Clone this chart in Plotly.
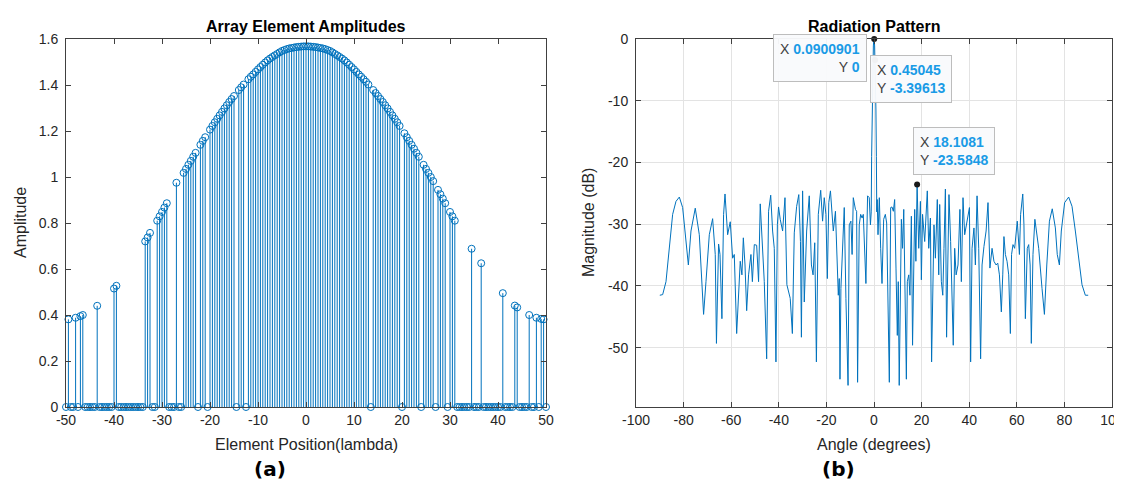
import numpy as np
import plotly.graph_objects as go

# ---------------- data: (a) array element amplitudes ----------------
element_positions = np.arange(-50, 50.5, 0.5)  # element grid in lambda
element_amplitudes = [
    0, 0.381, 0, 0, 0.388, 0, 0.395, 0.400, 0, 0,                     # -50 .. -45.5
    0, 0, 0, 0.440, 0, 0, 0, 0, 0, 0,                                 # -45 .. -40.5
    0.515, 0.527, 0, 0, 0, 0, 0, 0, 0, 0,                             # -40 .. -35.5
    0, 0, 0, 0.720, 0.737, 0.757, 0, 0, 0.810, 0.829,                 # -35 .. -30.5
    0.848, 0.867, 0.886, 0, 0, 0, 0.975, 0, 0, 1.018,                 # -30 .. -25.5
    1.035, 1.053, 1.070, 1.088, 1.105, 0, 1.140, 1.157, 1.173, 0,     # -25 .. -20.5
    1.206, 1.222, 1.238, 1.253, 1.268, 1.283, 1.298, 1.312, 1.326, 1.339,  # -20 .. -15.5
    1.352, 0, 1.378, 1.390, 1.402, 0, 1.425, 1.436, 1.446, 1.457,     # -15 .. -10.5
    1.468, 1.478, 1.488, 1.498, 1.507, 1.515, 1.522, 1.529, 1.535, 1.542,  # -10 .. -5.5
    1.548, 1.552, 1.556, 1.559, 1.561, 1.563, 1.565, 1.566, 1.567, 1.568,  # -5 .. -0.5
    1.568, 1.568, 1.567, 1.566, 1.565, 1.563, 1.561, 1.559, 1.556, 1.552,  # 0 .. 4.5
    1.548, 1.542, 1.535, 1.529, 1.522, 1.515, 1.507, 1.498, 1.488, 1.478,  # 5 .. 9.5
    1.468, 1.457, 1.446, 1.436, 1.425, 1.414, 1.402, 0, 1.378, 1.365,      # 10 .. 14.5
    1.352, 1.339, 1.326, 1.312, 1.298, 1.283, 1.268, 1.253, 1.238, 1.222,  # 15 .. 19.5
    0, 1.190, 1.173, 1.157, 1.140, 1.123, 1.105, 1.088, 0, 1.053,      # 20 .. 24.5
    1.035, 1.018, 1.000, 0.982, 0, 0.944, 0.925, 0.906, 0.886, 0,      # 25 .. 29.5
    0.848, 0.829, 0.810, 0, 0, 0, 0, 0, 0, 0.688,                     # 30 .. 34.5
    0, 0, 0, 0.625, 0, 0, 0, 0, 0, 0,                                 # 35 .. 39.5
    0, 0, 0.495, 0, 0, 0, 0, 0.441, 0.433, 0,                         # 40 .. 44.5
    0, 0, 0, 0.400, 0, 0, 0.388, 0, 0.383, 0.381,                     # 45 .. 49.5
    0,                                                                # 50
]
a_xticks = [-50, -40, -30, -20, -10, 0, 10, 20, 30, 40, 50]
a_yticks = [0, 0.2, 0.4, 0.6, 0.8, 1, 1.2, 1.4, 1.6]

# ---------------- data: (b) radiation pattern ----------------
angle_left = [
    -90.0, -88.8, -87.4, -86.0, -84.6, -83.2, -81.8, -80.4, -79.0, -78.0,
    -76.9, -75.1, -73.4, -72.0, -71.6, -70.6, -69.2, -67.8, -66.7, -66.2,
    -65.3, -64.7, -63.9, -63.2, -62.6, -61.5, -60.4, -59.4, -58.7, -57.7,
    -56.9, -56.2, -55.5, -54.9, -54.2, -53.5, -52.7, -51.7, -51.1, -50.3,
    -49.3, -48.5, -47.8, -47.1, -46.1, -45.1, -44.3, -43.4, -42.6, -41.9,
    -41.2, -40.6, -40.1, -39.4, -38.4, -37.4, -36.6, -35.2, -34.3, -33.5,
    -32.5, -31.6, -30.9, -30.5, -30.0, -29.3, -28.3, -27.2, -26.3, -25.6,
    -24.9, -24.2, -23.4, -22.4, -21.6, -20.9, -20.2, -19.6, -19.0, -18.3,
    -17.5, -17.1, -16.2, -15.5, -15.0, -14.6, -14.3, -13.9, -13.4, -12.5,
    -11.8, -10.9, -10.4, -9.7, -9.2, -8.7, -7.8, -7.3, -6.9, -6.2,
    -5.6, -5.0, -4.5, -3.9, -3.4, -2.7, -2.0, -1.5, -1.17, -0.99,
    -0.81, -0.63, -0.45, -0.27, -0.09,
]
magnitude_left = [
    -41.5, -41.4, -39.3, -33.3, -28.4, -26.3, -25.6, -27.3, -32.8, -36.6,
    -31.1, -27.4, -31.7, -40.4, -44.6, -39.3, -31.7, -29.1, -34.9, -49.3,
    -33.2, -34.9, -45.3, -28.4, -25.1, -31.7, -29.6, -35.5, -34.9, -47.7,
    -40.4, -36.0, -38.2, -32.2, -36.6, -44.0, -38.2, -34.9, -39.3, -33.3,
    -33.4, -39.3, -26.7, -32.8, -39.3, -51.8, -27.9, -25.3, -31.1, -33.9,
    -52.3, -30.1, -27.2, -29.2, -31.1, -25.7, -39.8, -42.0, -47.7, -31.4,
    -27.1, -25.2, -32.8, -48.3, -24.6, -42.6, -31.1, -25.4, -36.6, -38.2,
    -33.0, -52.3, -28.4, -24.5, -29.5, -25.7, -28.4, -38.8, -26.5, -24.6,
    -29.8, -31.1, -27.9, -38.2, -41.5, -38.8, -55.1, -40.4, -35.5, -27.3,
    -42.0, -56.1, -30.1, -29.5, -34.9, -25.7, -27.6, -27.9, -55.6, -30.1,
    -28.4, -29.0, -28.4, -33.9, -39.6, -25.4, -25.7, -30.1, -28.0, -19.0,
    -11.5, -6.8, -3.4, -1.13, 0.0,
]
angle_right = [
    0.0900901, 0.27, 0.45045, 0.63, 0.81, 0.99, 1.17, 1.35, 1.68, 2.24,
    2.8, 3.36, 4.06, 4.76, 5.32, 5.88, 6.44, 7.0, 7.56, 8.12,
    8.68, 9.24, 9.8, 10.2, 10.6, 11.5, 12.0, 12.5, 13.0, 13.6,
    14.0, 14.6, 15.1, 15.7, 16.2, 17.1, 17.6, 18.1081, 18.8, 19.5,
    19.9, 20.4, 21.3, 22.4, 23.0, 23.7, 24.2, 24.8, 25.2, 25.8,
    26.6, 27.2, 27.6, 28.3, 28.9, 29.4, 30.0, 30.5, 31.1, 31.5,
    32.2, 32.8, 33.3, 33.9, 34.5, 35.3, 36.1, 36.7, 37.4, 38.1,
    38.8, 39.5, 40.1, 40.6, 41.2, 42.0, 42.6, 43.3, 44.0, 44.8,
    45.4, 46.2, 47.1, 47.9, 48.7, 49.6, 50.4, 51.3, 52.0, 52.7,
    53.5, 54.1, 54.6, 55.2, 55.9, 56.6, 57.3, 57.8, 58.4, 59.1,
    60.2, 61.1, 61.6, 62.5, 63.0, 63.6, 64.4, 65.0, 65.6, 66.1,
    66.8, 67.6, 69.2, 70.6, 71.6, 72.6, 73.7, 74.9, 76.2, 77.0,
    77.9, 78.7, 80.1, 81.8, 83.2, 84.6, 86.0, 87.4, 88.8, 90.0,
]
magnitude_right = [
    0.0, -1.13, -3.39613, -6.8, -11.5, -19.0, -28.0, -26.0, -31.7, -25.7,
    -33.9, -39.6, -29.2, -28.4, -29.8, -42.6, -55.6, -27.3, -27.2, -27.9,
    -26.0, -37.1, -48.0, -39.3, -56.1, -29.2, -33.9, -27.6, -40.4, -55.1,
    -39.3, -38.2, -41.5, -28.7, -49.6, -27.6, -36.0, -23.5848, -33.9, -26.3,
    -39.0, -28.4, -32.8, -24.6, -33.9, -29.0, -52.3, -35.5, -30.1, -35.5,
    -26.0, -38.2, -26.8, -39.3, -41.5, -33.9, -24.3, -48.3, -33.9, -25.2,
    -32.8, -40.4, -49.6, -33.9, -38.2, -36.6, -27.6, -39.3, -25.7, -31.7,
    -30.1, -28.4, -27.3, -52.3, -33.9, -30.6, -36.6, -25.4, -33.9, -51.8,
    -36.6, -33.6, -31.1, -26.5, -37.1, -33.9, -36.0, -36.6, -36.3, -38.2,
    -44.2, -38.2, -32.0, -34.9, -36.0, -38.2, -47.7, -34.9, -33.3, -33.9,
    -29.5, -34.9, -28.4, -25.1, -30.1, -45.3, -33.9, -33.3, -36.6, -49.3,
    -34.9, -29.2, -33.9, -40.4, -44.6, -36.6, -29.5, -27.5, -30.6, -34.9,
    -36.6, -31.1, -26.5, -25.6, -27.1, -31.1, -36.0, -39.8, -41.5, -41.5,
]
angle_deg = angle_left + angle_right
magnitude_db = magnitude_left + magnitude_right

tip_x = [0.0900901, 0.45045, 18.1081]
tip_y = [0, -3.39613, -23.5848]

b_xticks = [-100, -80, -60, -40, -20, 0, 20, 40, 60, 80, 100]
b_yticks = [-50, -40, -30, -20, -10, 0]

# ---------------- styling ----------------
W, H = 1122, 481
BLUE = "#0072BD"
AX = "#404040"
TXT = "#262626"
FONT = "Liberation Sans, Arial, sans-serif"
TIPBLUE = "#1a9be6"


def fx(p):
    return p / W


def fy(p):
    return 1 - p / H


def lab(v):
    return f"{v:g}".replace("\u2212", "-")


fig = go.Figure()

# stems (vertical lines via error bars down to the baseline) + open circles
fig.add_trace(go.Scatter(
    x=element_positions, y=element_amplitudes, mode="markers",
    marker=dict(symbol="circle-open", size=7, color=BLUE, line=dict(width=1, color=BLUE)),
    error_y=dict(type="data", symmetric=False, array=[0] * len(element_amplitudes),
                 arrayminus=element_amplitudes, width=0, thickness=1, color=BLUE),
    cliponaxis=False, xaxis="x", yaxis="y", showlegend=False, hoverinfo="skip",
))

fig.add_trace(go.Scatter(
    x=angle_deg, y=magnitude_db, mode="lines",
    line=dict(color=BLUE, width=1), xaxis="x2", yaxis="y2", showlegend=False,
))
fig.add_trace(go.Scatter(
    x=tip_x, y=tip_y, mode="markers", marker=dict(color="#1a1a1a", size=6),
    cliponaxis=False, xaxis="x2", yaxis="y2", showlegend=False,
))

axis_common = dict(
    showline=True, linecolor=AX, linewidth=1, mirror="ticks", ticks="inside",
    ticklen=5, tickcolor=AX, zeroline=False, automargin=False,
    tickfont=dict(family=FONT, size=14, color=TXT),
)

y_dom = [fy(399), fy(31)]
fig.update_layout(
    width=W, height=H, paper_bgcolor="white", plot_bgcolor="white",
    margin=dict(l=0, r=0, t=0, b=0),
    xaxis=dict(domain=[fx(58), fx(538)], range=[-50, 50], tickvals=a_xticks,
               ticktext=[lab(v) for v in a_xticks], showgrid=False, anchor="y", **axis_common),
    yaxis=dict(domain=y_dom, range=[0, 1.6], tickvals=a_yticks,
               ticktext=[lab(v) for v in a_yticks], showgrid=False, anchor="x",
               ticklabelstandoff=4, **axis_common),
    xaxis2=dict(domain=[fx(628), fx(1104)], range=[-100, 100], tickvals=b_xticks,
                ticktext=[lab(v) for v in b_xticks], showgrid=True, gridcolor="#e3e3e3",
                anchor="y2", **axis_common),
    yaxis2=dict(domain=y_dom, range=[-59.6, 0], tickvals=b_yticks,
                ticktext=[lab(v) for v in b_yticks], showgrid=True, gridcolor="#e3e3e3",
                anchor="x2", ticklabelstandoff=4, **axis_common),
)

ann = []


def text(x, y, s, size=16, bold=False, angle=0, family=FONT, color=TXT):
    ann.append(dict(x=fx(x), y=fy(y), xref="paper", yref="paper", showarrow=False,
                    text=f"<b>{s}</b>" if bold else s, textangle=angle,
                    xanchor="center", yanchor="middle",
                    font=dict(family=family, size=size, color=color)))


text(298, 18, "Array Element Amplitudes", bold=True, color="#000000")
text(866, 18, "Radiation Pattern", bold=True, color="#000000")
text(12, 215, "Amplitude", angle=-90)
text(580, 215, "Magnitude (dB)", angle=-90)
text(298, 436, "Element Position(lambda)")
text(866, 436, "Angle (degrees)")
text(262, 461, "(a)", size=20, bold=True, family="DejaVu Sans, Verdana, sans-serif", color="#000000")
text(830, 461, "(b)", size=20, bold=True, family="DejaVu Sans, Verdana, sans-serif", color="#000000")


def tip_text(xv, yv):
    return (f"<span style='color:{AX}'>X </span><b><span style='color:{TIPBLUE}'>{xv:g}</span></b><br>"
            f"<span style='color:{AX}'>Y </span><b><span style='color:{TIPBLUE}'>{yv:g}</span></b>")


tip_boxes = [  # (anchor x px, top y px, xanchor, align)
    (859, 26, "right", "right"),
    (862, 47, "left", "left"),
    (905, 119, "left", "left"),
]
for (bx, by, xa, al), xv, yv in zip(tip_boxes, tip_x, tip_y):
    ann.append(dict(x=fx(bx), y=fy(by), xref="paper", yref="paper", showarrow=False,
                    text=tip_text(xv, yv), align=al, xanchor=xa, yanchor="top",
                    bgcolor="rgba(249,250,252,0.96)", bordercolor="#bdbdbd", borderwidth=1,
                    borderpad=6, font=dict(family=FONT, size=14, color=AX)))

fig.update_layout(annotations=ann)
fig.write_html("out.html")
